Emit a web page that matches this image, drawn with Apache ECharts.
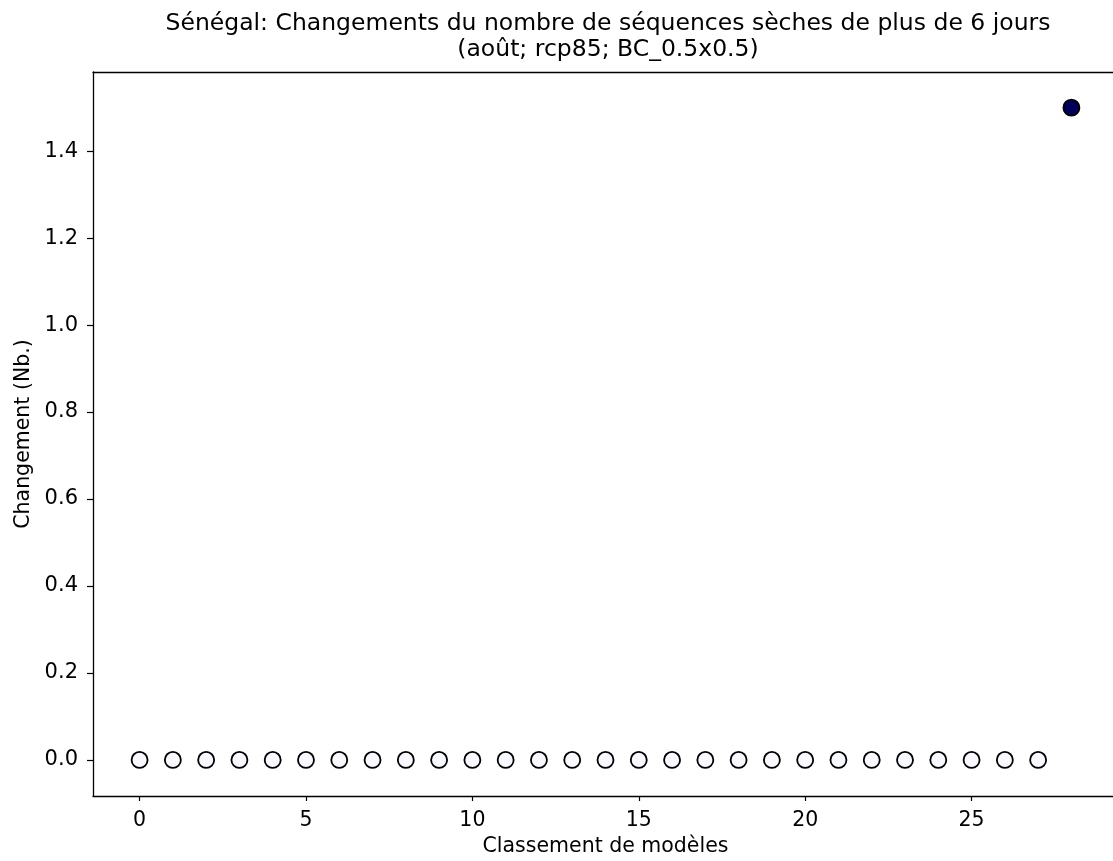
<!DOCTYPE html>
<html>
<head>
<meta charset="utf-8">
<script src="https://cdn.jsdelivr.net/npm/echarts@6/dist/echarts.min.js"></script>
<style>
html, body { margin: 0; padding: 0; background: #fff; }
#chart { width: 1113px; height: 861px; }
</style>
</head>
<body>
<div id="chart"></div>
<script>
// model rank (x) and change (y)
const ranks = [0, 1, 2, 3, 4, 5, 6, 7, 8, 9, 10, 11, 12, 13, 14, 15, 16, 17, 18, 19, 20, 21, 22, 23, 24, 25, 26, 27, 28]
const changes = [0, 0, 0, 0, 0, 0, 0, 0, 0, 0, 0, 0, 0, 0, 0, 0, 0, 0, 0, 0, 0, 0, 0, 0, 0, 0, 0, 0, 1.5]
const xTicks = [0, 5, 10, 15, 20, 25]
const yTicks = [0, 0.2, 0.4, 0.6, 0.8, 1.0, 1.2, 1.4]

const font = 'DejaVu Sans'
const chart = echarts.init(document.getElementById('chart'))

const points = ranks.map((r, i) => ({
    value: [r, changes[i]],
    itemStyle: {
        color: changes[i] > 0 ? '#00005c' : '#f8f8ff'
    }
}))

const option = {
    animation: false,
    title: {
        text: 'Sénégal: Changements du nombre de séquences sèches de plus de 6 jours\n(août; rcp85; BC_0.5x0.5)',
        left: 603,
        top: 6,
        textAlign: 'center',
        textStyle: {
            fontFamily: font,
            fontWeight: 'normal',
            fontSize: 23.5,
            lineHeight: 26,
            color: '#000'
        }
    },
    grid: {
        left: 93,
        top: 72,
        width: 1025,
        height: 724,
        outerBoundsMode: 'none'
    },
    xAxis: [
        {
            type: 'value',
            min: -1.4,
            max: 29.4,
            name: 'Classement de modèles',
            nameLocation: 'middle',
            nameGap: 40,
            nameTextStyle: { fontFamily: font, fontSize: 20.5, color: '#000' },
            axisLine: { show: true, onZero: false, lineStyle: { color: '#000', width: 1.3 } },
            axisTick: { show: true, inside: false, length: 5, customValues: xTicks, lineStyle: { color: '#000', width: 1.2 } },
            axisLabel: { customValues: xTicks, fontFamily: font, fontSize: 20.5, color: '#000', margin: 14 },
            splitLine: { show: false }
        },
        {
            // top frame line
            type: 'value',
            position: 'top',
            min: -1.4,
            max: 29.4,
            axisLine: { show: true, onZero: false, lineStyle: { color: '#000', width: 1.3 } },
            axisTick: { show: false },
            axisLabel: { show: false },
            splitLine: { show: false }
        }
    ],
    yAxis: {
        type: 'value',
        min: -0.083,
        max: 1.582,
        name: 'Changement (Nb.)',
        nameLocation: 'middle',
        nameGap: 59,
        nameTextStyle: { fontFamily: font, fontSize: 20.5, color: '#000' },
        axisLine: { show: true, onZero: false, lineStyle: { color: '#000', width: 1.3 } },
        axisTick: { show: true, inside: false, length: 6, customValues: yTicks, lineStyle: { color: '#000', width: 1.2 } },
        axisLabel: {
            customValues: yTicks,
            fontFamily: font,
            fontSize: 21,
            color: '#000',
            margin: 15,
            formatter: v => v.toFixed(1)
        },
        splitLine: { show: false }
    },
    series: [
        {
            type: 'scatter',
            symbol: 'circle',
            symbolSize: 16,
            data: points,
            itemStyle: {
                borderColor: '#000',
                borderWidth: 1.8,
                opacity: 1
            }
        }
    ]
}

chart.setOption(option)
</script>
</body>
</html>
